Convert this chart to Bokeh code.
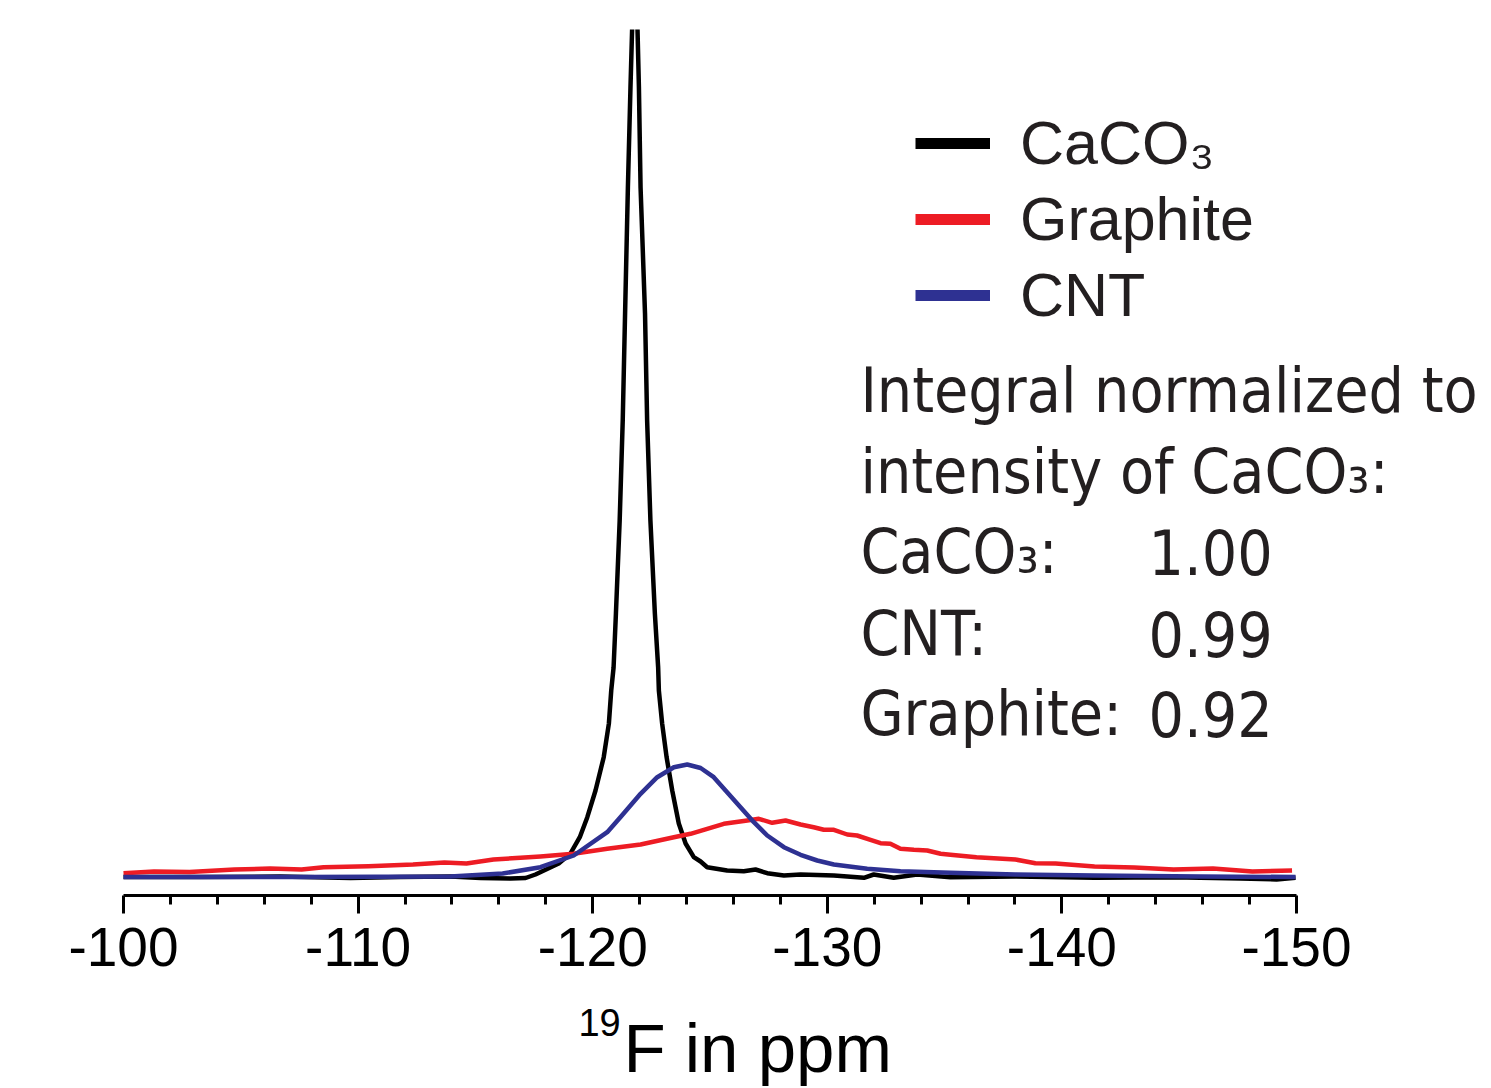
from bokeh.plotting import figure
from bokeh.layouts import column
from bokeh.models import Range1d, FixedTicker, Legend, LegendItem, Label
from bokeh.embed import file_html
from bokeh.resources import INLINE

# ---- data (19F chemical shift in ppm, intensity in arbitrary units) ----
caco3_ppm = [-100.00, -103.28, -106.69, -109.68, -111.81, -113.94, -115.22, -116.50, -117.14, -117.56,
             -117.92, -118.55, -119.05, -119.45, -119.77, -120.12, -120.47, -120.69, -120.79, -120.89,
             -120.99, -121.15, -121.28, -121.38, -121.50, -121.61, -121.68, -121.78, -121.91, -121.97,
             -122.04, -122.23, -122.32, -122.46, -122.65, -122.79, -122.82, -122.96, -123.15, -123.39,
             -123.67, -123.96, -124.31, -124.60, -124.88, -125.73, -126.44, -126.94, -127.44, -128.15,
             -128.86, -130.28, -131.56, -131.98, -132.83, -133.83, -135.25, -138.02, -141.39, -144.76,
             -147.61, -149.15, -149.96]
caco3_int = [0.0, 0.0, 0.005, -0.01, 0.0, 0.005, -0.01, -0.015, -0.01, 0.025,
             0.065, 0.135, 0.235, 0.398, 0.598, 0.865, 1.198, 1.535, 1.865, 2.095,
             2.635, 3.565, 4.565, 5.635, 6.895, 7.895, 8.475, 8.95, 8.475, 7.895,
             6.895, 5.635, 4.565, 3.565, 2.635, 2.095, 1.865, 1.535, 1.198, 0.865,
             0.535, 0.335, 0.198, 0.155, 0.098, 0.065, 0.058, 0.075, 0.038, 0.015,
             0.025, 0.015, -0.008, 0.025, -0.008, 0.025, -0.002, 0.005, -0.008, -0.002,
             -0.015, -0.025, -0.008]

cnt_ppm = [-100.00, -107.54, -113.94, -116.16, -117.77, -119.19, -120.62, -121.18, -122.04, -122.75,
           -123.46, -124.03, -124.60, -125.16, -125.73, -126.30, -126.87, -127.44, -128.15, -128.86,
           -129.57, -130.28, -131.70, -133.12, -135.25, -138.02, -141.39, -145.91, -149.96]
cnt_int = [0.0, 0.0, 0.005, 0.035, 0.098, 0.215, 0.448, 0.598, 0.832, 0.998,
           1.098, 1.125, 1.09, 0.998, 0.848, 0.698, 0.548, 0.415, 0.298, 0.222,
           0.165, 0.125, 0.082, 0.058, 0.042, 0.025, 0.015, 0.005, 0.0]

graphite_ppm = [-100.00, -101.30, -102.81, -104.73, -106.25, -107.59, -108.53, -110.44, -112.34, -113.68,
                -114.62, -115.77, -117.09, -117.77, -119.18, -120.62, -122.04, -123.46, -124.17, -124.88,
                -125.59, -126.59, -127.08, -127.65, -128.22, -128.86, -129.42, -129.85, -130.28, -130.85,
                -131.27, -131.84, -132.27, -132.69, -133.12, -133.69, -134.26, -134.83, -135.25, -136.36,
                -138.02, -138.87, -139.73, -141.39, -143.09, -144.76, -146.44, -148.12, -149.81]
graphite_int = [0.038, 0.055, 0.05, 0.075, 0.085, 0.075, 0.098, 0.108, 0.125, 0.145,
                0.135, 0.175, 0.195, 0.205, 0.232, 0.282, 0.325, 0.398, 0.432, 0.482,
                0.532, 0.565, 0.582, 0.542, 0.565, 0.525, 0.498, 0.472, 0.472, 0.425,
                0.415, 0.372, 0.338, 0.332, 0.282, 0.272, 0.265, 0.232, 0.222, 0.198,
                0.175, 0.138, 0.135, 0.105, 0.095, 0.075, 0.085, 0.055, 0.065]

tick_values = [-100, -110, -120, -130, -140, -150]
tick_labels = ["-100", "-110", "-120", "-130", "-140", "-150"]
minor_values = [-102, -104, -106, -108, -112, -114, -116, -118, -122, -124, -126, -128,
                -132, -134, -136, -138, -142, -144, -146, -148]

series_names = ["CaCO\u2083", "Graphite", "CNT"]
series_colors = ["#000000", "#ED1C24", "#2E3192"]

integral_header = ["Integral normalized to", "intensity of CaCO\u2083:"]
integral_labels = ["CaCO\u2083:", "CNT:", "Graphite:"]
integral_values = ["1.00", "0.99", "0.92"]

# ---- main figure ----
xr = Range1d(-94.757, -158.312)
p = figure(width=1491, height=1000, output_backend="svg", toolbar_location=None,
           x_range=xr, y_range=Range1d(-0.185, 8.475),
           min_border_left=0, min_border_right=0, min_border_top=29, min_border_bottom=105,
           y_axis_location=None)
p.outline_line_color = None
p.grid.visible = False

xa = p.xaxis[0]
xa.bounds = (-100, -150)
xa.ticker = FixedTicker(ticks=tick_values, minor_ticks=minor_values)
xa.major_label_overrides = {v: s for v, s in zip(tick_values, tick_labels)}
xa.axis_line_width = 3
xa.axis_line_color = "black"
xa.major_tick_line_width = 3
xa.minor_tick_line_width = 3
xa.major_tick_out = 18
xa.major_tick_in = 0
xa.minor_tick_out = 9
xa.minor_tick_in = 0
xa.major_tick_line_color = "black"
xa.minor_tick_line_color = "black"
xa.major_label_text_font = "Liberation Sans"
xa.major_label_text_font_size = "55px"
xa.major_label_text_color = "black"
xa.major_label_standoff = 14

p.line(caco3_ppm, caco3_int, line_color=series_colors[0], line_width=4.5, line_join="round")
p.line(graphite_ppm, graphite_int, line_color=series_colors[1], line_width=4.5, line_join="round")
p.line(cnt_ppm, cnt_int, line_color=series_colors[2], line_width=4.5, line_join="round")

# thick legend swatches (renderers with no drawable point)
nan = float("nan")
swatches = [p.line(x=[nan], y=[nan], line_color=c, line_width=11) for c in series_colors]

legend = Legend(items=[LegendItem(label=n, renderers=[s]) for n, s in zip(series_names, swatches)],
                location=(915, 565), orientation="vertical")
legend.label_text_font = "Liberation Sans"
legend.label_text_font_size = "61px"
legend.label_text_color = "#231F20"
legend.glyph_width = 75
legend.glyph_height = 70
legend.label_height = 70
legend.label_standoff = 30
legend.spacing = 6
legend.padding = 0
legend.margin = 0
legend.border_line_color = None
legend.background_fill_alpha = 0
p.add_layout(legend)

# annotation block (text positioned in data units)
ann_x, val_x = -131.41, -143.69
for txt, yy in zip(integral_header, [4.865, 4.055]):
    p.add_layout(Label(x=ann_x, y=yy, text=txt, text_font="DejaVu Sans Condensed",
                       text_font_size="62px", text_color="#231F20", text_baseline="alphabetic"))
for lab, val, yy in zip(integral_labels, integral_values, [3.255, 2.435, 1.635]):
    p.add_layout(Label(x=ann_x, y=yy, text=lab, text_font="DejaVu Sans Condensed",
                       text_font_size="62px", text_color="#231F20", text_baseline="alphabetic"))
    p.add_layout(Label(x=val_x, y=yy, text=val, text_font="DejaVu Sans Condensed",
                       text_font_size="62px", text_color="#231F20", text_baseline="alphabetic"))

# ---- axis title strip: 19F in ppm ----
p2 = figure(width=1491, height=88, output_backend="svg", toolbar_location=None,
            x_range=xr, y_range=Range1d(0, 88),
            min_border_left=0, min_border_right=0, min_border_top=0, min_border_bottom=0,
            x_axis_location=None, y_axis_location=None)
p2.outline_line_color = None
p2.grid.visible = False
p2.add_layout(Label(x=-119.39, y=66, text="19", text_font="Liberation Sans",
                    text_font_size="38px", text_color="black", text_baseline="alphabetic"))
p2.add_layout(Label(x=-121.31, y=40, text="F in ppm", text_font="Liberation Sans",
                    text_font_size="69px", text_color="black", text_baseline="alphabetic"))

layout = column(p, p2, spacing=0)
open("out.html", "w").write(file_html(layout, INLINE))
